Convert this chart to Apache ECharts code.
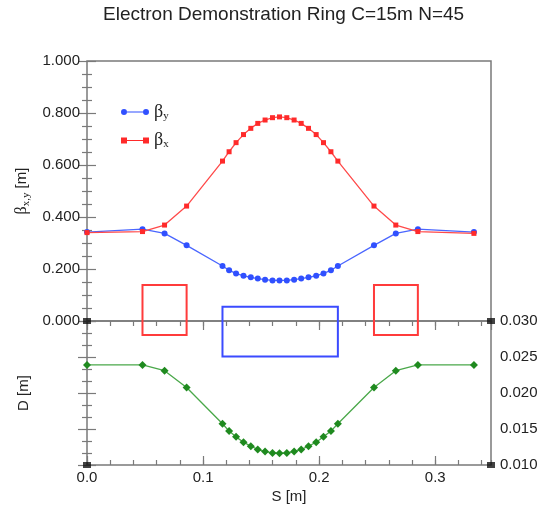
<!DOCTYPE html>
<html>
<head>
<meta charset="utf-8">
<script src="https://cdn.jsdelivr.net/npm/echarts@6/dist/echarts.min.js"></script>
<style>
  html, body { margin: 0; padding: 0; background: #fff; }
  #chart { width: 541px; height: 510px; }
</style>
</head>
<body>
<div id="chart"></div>
<script>
// Lattice position along the cell [m]
const sPos = [0, 0.0478, 0.0668, 0.0858,
  0.1167, 0.1224, 0.1284, 0.1348, 0.1411, 0.1471, 0.1534, 0.1598, 0.1658,
  0.1721, 0.1784, 0.1845, 0.1908, 0.1974, 0.2037, 0.2101, 0.2161,
  0.2472, 0.2660, 0.2850, 0.3333];

// Vertical beta function [m]
const betaY = [0.342, 0.353, 0.337, 0.291,
  0.2115, 0.195, 0.183, 0.174, 0.168, 0.163, 0.159, 0.156, 0.156,
  0.156, 0.159, 0.163, 0.168, 0.174, 0.183, 0.195, 0.2115,
  0.291, 0.337, 0.353, 0.342];

// Horizontal beta function [m]
const betaX = [0.340, 0.344, 0.369, 0.442,
  0.615, 0.651, 0.686, 0.717, 0.741, 0.760, 0.773, 0.782, 0.785,
  0.782, 0.773, 0.760, 0.741, 0.717, 0.686, 0.651, 0.615,
  0.442, 0.369, 0.344, 0.337];

// Dispersion [m]
const disp = [0.0239, 0.0239, 0.0231, 0.02077,
  0.01573, 0.01471, 0.01391, 0.01317, 0.01261, 0.01215, 0.01187, 0.01167, 0.01163,
  0.01167, 0.01187, 0.01215, 0.01261, 0.01317, 0.01391, 0.01471, 0.01573,
  0.02077, 0.0231, 0.0239, 0.0239];

// Magnet layout: [sStart, sEnd, lower, upper] in beta-panel units
const quadBoxes = [[0.0478, 0.0858, -0.054, 0.138], [0.2472, 0.2850, -0.054, 0.138]];
const bendBoxes = [[0.1167, 0.2161, -0.137, 0.055]];

// Corner markers of the two panels
const cornerTop = [[0, 0], [0.348, 0]];
const cornerBottom = [[0, 0.010], [0.348, 0.010]];

// Axis ranges and tick labels
const sMax = 0.348;
const betaTicks = ['0.000', '0.200', '0.400', '0.600', '0.800', '1.000'];
const dTicks = ['0.010', '0.015', '0.020', '0.025', '0.030'];
const sTicks = ['0.0', '0.1', '0.2', '0.3'];

const AX = '#7a7a7a';
const LBL = { color: '#222', fontSize: 15, fontFamily: 'Liberation Sans' };

const pairs = (xs, ys) => xs.map((x, i) => [x, ys[i]]);

function boxSeries(boxes, color) {
  return {
    type: 'custom',
    xAxisIndex: 0, yAxisIndex: 0,
    clip: false, silent: true, z: 3,
    data: boxes,
    renderItem: function (params, api) {
      const p0 = api.coord([api.value(0), api.value(3)]);
      const p1 = api.coord([api.value(1), api.value(2)]);
      return {
        type: 'rect',
        shape: { x: p0[0], y: p0[1], width: p1[0] - p0[0], height: p1[1] - p0[1] },
        style: { fill: 'none', stroke: color, lineWidth: 2 }
      };
    }
  };
}

const iconCircles = 'path://M0,3a3,3 0 1,0 6,0a3,3 0 1,0 -6,0zM6,2.5h16v1h-16zM22,3a3,3 0 1,0 6,0a3,3 0 1,0 -6,0z';
const iconSquares = 'path://M0,0h6v6h-6zM6,2.5h16v1h-16zM22,0h6v6h-6z';

// All s axes sit on the lower edge of their panel
const xBase = (grid) => ({
  type: 'value', gridIndex: grid, position: 'bottom', min: 0, max: sMax,
  axisLine: { show: false }, splitLine: { show: false }
});

const chart = echarts.init(document.getElementById('chart'), null, { renderer: 'canvas' });
chart.setOption({
  animation: false,
  backgroundColor: '#fff',
  title: {
    text: 'Electron Demonstration Ring C=15m N=45',
    left: 98, top: 0,
    textStyle: { fontSize: 19, fontWeight: 'normal', color: '#222', fontFamily: 'Liberation Sans' }
  },
  legend: {
    left: 116, top: 98, orient: 'vertical', itemGap: 10,
    itemWidth: 28, itemHeight: 6,
    data: [{ name: 'βy', icon: iconCircles }, { name: 'βx', icon: iconSquares }],
    formatter: n => '{g|β}{s|' + n.slice(1) + '}',
    textStyle: {
      rich: {
        g: { fontSize: 18, fontFamily: 'Liberation Serif', color: '#222' },
        s: { fontSize: 11, fontFamily: 'Liberation Serif', color: '#222', verticalAlign: 'bottom', padding: [8, 0, 0, 0] }
      }
    }
  },
  grid: [
    { left: 87, right: 50, top: 61, height: 260, show: true, borderColor: AX, borderWidth: 1.5, backgroundColor: 'transparent' },
    { left: 87, right: 50, top: 321, height: 144, show: true, borderColor: AX, borderWidth: 1.5, backgroundColor: 'transparent' }
  ],
  xAxis: [
    Object.assign(xBase(0), { interval: 0.1, axisLabel: { show: false },
      axisTick: { show: true, inside: false, length: 9, lineStyle: { color: AX, width: 1.2 } } }),
    Object.assign(xBase(0), { interval: 0.02, axisLabel: { show: false },
      axisTick: { show: true, inside: false, length: 5, lineStyle: { color: AX, width: 1.2 } } }),
    Object.assign(xBase(1), { interval: 0.1, name: 'S [m]', nameLocation: 'middle', nameGap: 24,
      nameTextStyle: LBL,
      axisLabel: Object.assign({ margin: 5, showMaxLabel: false, formatter: v => sTicks[Math.round(v * 10)] }, LBL),
      axisTick: { show: true, inside: true, length: 9, lineStyle: { color: AX, width: 1.2 } } }),
    Object.assign(xBase(1), { interval: 0.02, axisLabel: { show: false },
      axisTick: { show: true, inside: true, length: 5, lineStyle: { color: AX, width: 1.2 } } })
  ],
  yAxis: [
    { type: 'value', gridIndex: 0, position: 'left', min: 0, max: 1, interval: 0.2,
      name: '{g|β}{s|x,y}{n| [m]}', nameLocation: 'middle', nameGap: 55, nameRotate: 90,
      nameTextStyle: { rich: {
        g: { fontSize: 16, fontFamily: 'Liberation Serif', color: '#222' },
        s: { fontSize: 11, fontFamily: 'Liberation Serif', color: '#222', padding: [8, 0, 0, 0] },
        n: { fontSize: 15, fontFamily: 'Liberation Sans', color: '#222' } } },
      axisLine: { show: false }, splitLine: { show: false },
      axisLabel: Object.assign({ margin: 7, formatter: v => betaTicks[Math.round(v * 5)] }, LBL),
      axisTick: { show: true, inside: true, length: 9, lineStyle: { color: AX, width: 1.2 } },
      minorTick: { show: true, splitNumber: 4, length: 5, lineStyle: { color: AX, width: 1.2 } } },
    { type: 'value', gridIndex: 0, position: 'right', min: 0, max: 1, interval: 0.2,
      axisLine: { show: false }, splitLine: { show: false }, axisLabel: { show: false },
      axisTick: { show: true, inside: true, length: 9, lineStyle: { color: AX, width: 1.2 } },
      minorTick: { show: true, splitNumber: 4, length: 5, lineStyle: { color: AX, width: 1.2 } } },
    { type: 'value', gridIndex: 1, position: 'left', min: 0.010, max: 0.030, interval: 0.005,
      name: 'D [m]', nameLocation: 'middle', nameGap: 56, nameTextStyle: LBL,
      axisLine: { show: false }, splitLine: { show: false }, axisLabel: { show: false },
      axisTick: { show: true, inside: true, length: 9, lineStyle: { color: AX, width: 1.2 } },
      minorTick: { show: true, splitNumber: 3, length: 5, lineStyle: { color: AX, width: 1.2 } } },
    { type: 'value', gridIndex: 1, position: 'right', min: 0.010, max: 0.030, interval: 0.005,
      axisLine: { show: false }, splitLine: { show: false },
      axisLabel: Object.assign({ margin: 9, formatter: v => dTicks[Math.round((v - 0.010) / 0.005)] }, LBL),
      axisTick: { show: true, inside: true, length: 9, lineStyle: { color: AX, width: 1.2 } },
      minorTick: { show: true, splitNumber: 3, length: 5, lineStyle: { color: AX, width: 1.2 } } }
  ],
  series: [
    boxSeries(quadBoxes, '#ff3b3b'),
    boxSeries(bendBoxes, '#3b4bff'),
    { name: 'βy', type: 'line', xAxisIndex: 0, yAxisIndex: 0, z: 4,
      data: pairs(sPos, betaY), symbol: 'circle', symbolSize: 6,
      itemStyle: { color: '#3050ff' }, lineStyle: { color: '#4a66ff', width: 1.3 } },
    { name: 'βx', type: 'line', xAxisIndex: 0, yAxisIndex: 0, z: 5,
      data: pairs(sPos, betaX), symbol: 'rect', symbolSize: 5,
      itemStyle: { color: '#ff2a2a' }, lineStyle: { color: '#ff4a4a', width: 1.3 } },
    { name: 'D', type: 'line', xAxisIndex: 2, yAxisIndex: 2, z: 4,
      data: pairs(sPos, disp), symbol: 'diamond', symbolSize: 8,
      itemStyle: { color: '#1f8a1f' }, lineStyle: { color: '#4aa84a', width: 1.3 } },
    { name: 'cornerTop', type: 'scatter', xAxisIndex: 0, yAxisIndex: 0, z: 6, clip: false,
      data: cornerTop, symbol: 'rect', symbolSize: [8, 6], itemStyle: { color: '#111' } },
    { name: 'cornerBottom', type: 'scatter', xAxisIndex: 2, yAxisIndex: 2, z: 6, clip: false,
      data: cornerBottom, symbol: 'rect', symbolSize: [8, 6], itemStyle: { color: '#111' } }
  ]
});
</script>
</body>
</html>
